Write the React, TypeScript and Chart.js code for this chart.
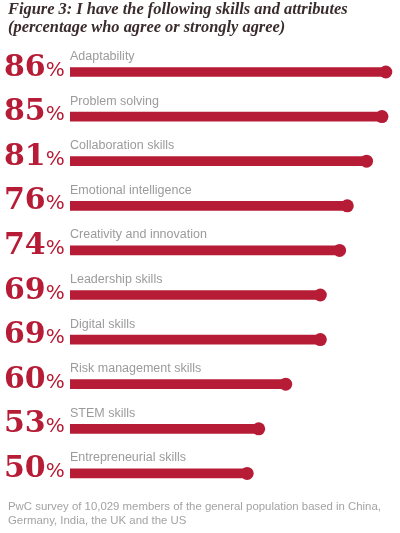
import React, { useEffect, useRef } from "react";
import { Chart, registerables } from "chart.js";

Chart.register(...registerables);

const categories = [
  "Adaptability",
  "Problem solving",
  "Collaboration skills",
  "Emotional intelligence",
  "Creativity and innovation",
  "Leadership skills",
  "Digital skills",
  "Risk management skills",
  "STEM skills",
  "Entrepreneurial skills",
];
const values = [86, 85, 81, 76, 74, 69, 69, 60, 53, 50];
const titleLines = [
  "Figure 3: I have the following skills and attributes",
  "(percentage who agree or strongly agree)",
];
const footerLines = [
  "PwC survey of 10,029 members of the general population based in China,",
  "Germany, India, the UK and the US",
];

const RED = "#b71c36";
const GRAY = "#9b9b9b";

const textPlugin = {
  id: "textPlugin",
  afterDatasetsDraw(chart: any) {
    const ctx = chart.ctx;
    const yScale = chart.scales.y;
    ctx.save();
    // title
    ctx.fillStyle = "#3a2c2c";
    ctx.font = "italic bold 16.4px 'Liberation Serif'";
    ctx.textAlign = "left";
    ctx.textBaseline = "alphabetic";
    ctx.fillText(titleLines[0], 8, 13.5);
    ctx.fillText(titleLines[1], 8, 31.5);
    // rows
    categories.forEach((cat, i) => {
      const y = yScale.getPixelForValue(i);
      ctx.fillStyle = RED;
      ctx.font = "bold 30px 'DejaVu Serif'";
      const digits = String(values[i]);
      ctx.fillText(digits, 4, y + 3.5);
      const w = ctx.measureText(digits).width;
      ctx.font = "20px 'DejaVu Sans'";
      ctx.fillText("%", 4 + w, y + 3.5);
      ctx.fillStyle = GRAY;
      ctx.font = "12.5px 'Liberation Sans'";
      ctx.fillText(cat, 70, y - 12);
    });
    // footer
    ctx.fillStyle = "#a3a3a3";
    ctx.font = "11.4px 'Liberation Sans'";
    ctx.fillText(footerLines[0], 8, 510);
    ctx.fillText(footerLines[1], 8, 524);
    ctx.restore();
  },
};

export default function App() {
  const ref = useRef<HTMLCanvasElement>(null);
  useEffect(() => {
    document.body.style.margin = "0";
    const chart = new Chart(ref.current!, {
      type: "bar",
      data: {
        labels: categories,
        datasets: [
          {
            type: "bar",
            data: values,
            backgroundColor: RED,
            barThickness: 9,
            borderWidth: 0,
          } as any,
          {
            type: "line",
            data: values,
            indexAxis: "y",
            showLine: false,
            pointRadius: 6.5,
            pointBackgroundColor: RED,
            pointBorderWidth: 0,
            clip: false,
          } as any,
        ],
      },
      options: {
        indexAxis: "y",
        responsive: false,
        animation: false,
        layout: { padding: { left: 70, right: 2.2, top: 49.7, bottom: 37.3 } },
        plugins: { legend: { display: false }, tooltip: { enabled: false } },
        scales: {
          x: { display: false, min: 4, max: 88 },
          y: { display: false },
        },
      } as any,
      plugins: [textPlugin],
    });
    return () => chart.destroy();
  }, []);
  return (
    <div style={{ width: 400, height: 533, background: "#fff" }}>
      <canvas ref={ref} width={400} height={533} style={{ width: 400, height: 533, display: "block" }} />
    </div>
  );
}
